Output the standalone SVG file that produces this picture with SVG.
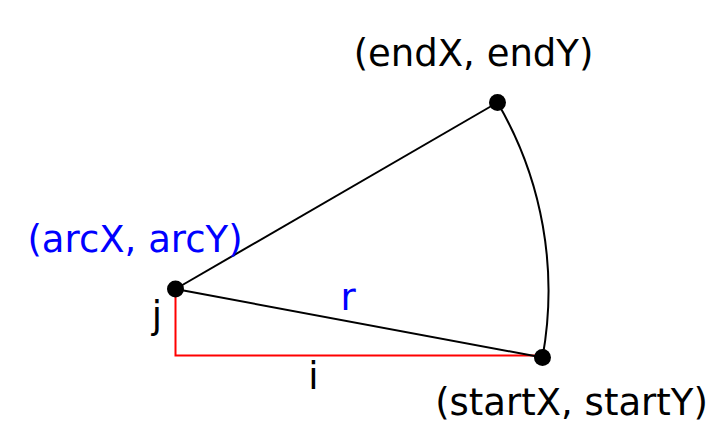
<svg xmlns="http://www.w3.org/2000/svg" width="726" height="446" viewBox="0 0 726 446">
<style>
text{font-family:"DejaVu Sans",sans-serif;font-size:37px;text-anchor:middle}
.blue{fill:#0000ff}
.line{stroke:#000;stroke-width:2;fill:none}
.red{stroke:#ff0000;stroke-width:2;fill:none}
.dot{fill:#000}
</style>
<rect width="726" height="446" fill="#fff"/>
<g id="connectors">
<path class="red" d="M175.5,289 V355.5 H542.5"/>
<line class="line" x1="175.5" y1="289" x2="497.5" y2="102.5"/>
<line class="line" x1="175.5" y1="289" x2="542.5" y2="357.5"/>
<path class="line" d="M542.5,357.5 A373,373 0 0 0 497.5,102.5"/>
</g>
<g id="arc-center">
<circle class="dot" cx="175.5" cy="289" r="8.5"/>
<text class="blue" x="135" y="252">(arcX, arcY)</text>
</g>
<g id="end-point">
<circle class="dot" cx="497.5" cy="102.5" r="8.5"/>
<text x="473.5" y="66">(endX, endY)</text>
</g>
<g id="start-point">
<circle class="dot" cx="542.5" cy="357.5" r="8.5"/>
<text x="571.5" y="415">(startX, startY)</text>
</g>
<g id="labels">
<text class="blue" x="348" y="310">r</text>
<text x="157" y="328">j</text>
<text x="313.5" y="389">i</text>
</g>
</svg>
